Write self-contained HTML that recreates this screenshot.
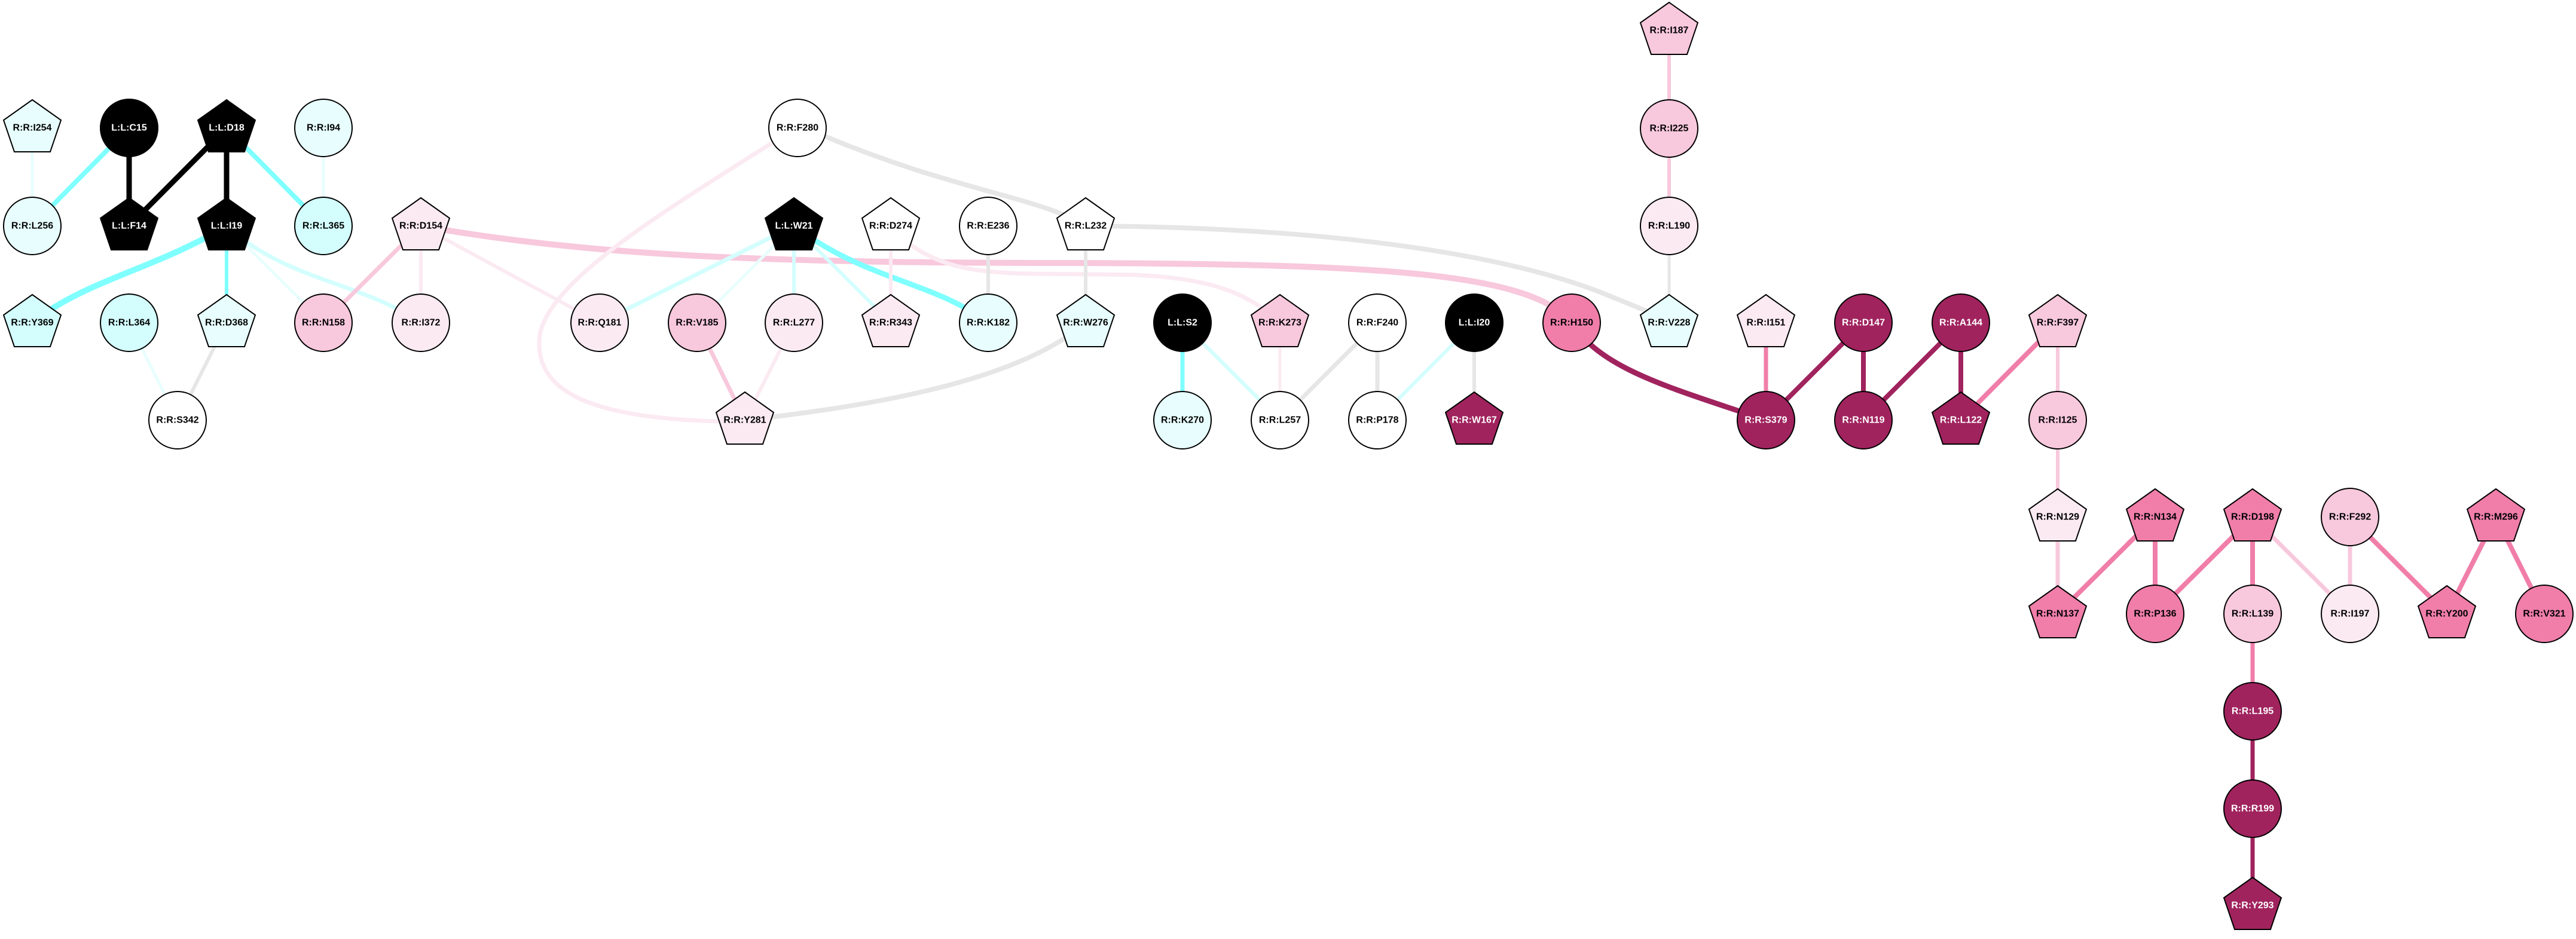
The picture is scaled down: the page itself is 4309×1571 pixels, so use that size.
<!DOCTYPE html>
<html><head><meta charset="utf-8"><style>
html,body{margin:0;padding:0;background:#fff;}
svg{display:block;}
text{font-family:"Liberation Sans",Arial,sans-serif;font-weight:bold;font-size:16px;text-anchor:middle;dominant-baseline:central;}
.w{fill:#fff;}
</style></head><body>
<svg width="4309" height="1571" viewBox="0 0 4309 1571" xmlns="http://www.w3.org/2000/svg">
<defs>
<polygon id="pg" points="0,-47 48,-13 30,40 -30,40 -48,-13" stroke="#000" stroke-width="2"/>
</defs>
<g fill="none" stroke-linecap="butt">
<line x1="54" y1="214" x2="54" y2="378" stroke="#e8fefe" stroke-width="5"/>
<line x1="216" y1="214" x2="54" y2="378" stroke="#80ffff" stroke-width="8"/>
<line x1="216" y1="214" x2="216" y2="378" stroke="#000" stroke-width="9"/>
<line x1="379" y1="214" x2="216" y2="378" stroke="#000" stroke-width="9"/>
<line x1="379" y1="214" x2="379" y2="378" stroke="#000" stroke-width="9"/>
<line x1="379" y1="214" x2="541" y2="378" stroke="#80ffff" stroke-width="8"/>
<line x1="541" y1="214" x2="541" y2="378" stroke="#e8fefe" stroke-width="5"/>
<path d="M379,378 C260,450 140,470 54,540" stroke="#80ffff" stroke-width="10"/>
<line x1="379" y1="378" x2="379" y2="540" stroke="#80ffff" stroke-width="6"/>
<line x1="379" y1="378" x2="541" y2="540" stroke="#e8fefe" stroke-width="5"/>
<path d="M379,378 C480,470 600,470 704,540" stroke="#d4fefe" stroke-width="7"/>
<line x1="216" y1="540" x2="297" y2="703" stroke="#e8fefe" stroke-width="5"/>
<line x1="379" y1="540" x2="297" y2="703" stroke="#e6e6e6" stroke-width="6"/>
<line x1="704" y1="378" x2="541" y2="540" stroke="#f8c8dc" stroke-width="7"/>
<line x1="704" y1="378" x2="704" y2="540" stroke="#fbeaf2" stroke-width="6"/>
<line x1="704" y1="378" x2="1003" y2="540" stroke="#fbeaf2" stroke-width="6"/>
<path d="M704,378 C1000,430 1300,440 1800,440 C2300,442 2560,455 2629,540" stroke="#f8c8dc" stroke-width="10"/>
<path d="M1290,240 C1100,360 920,470 903,560 C890,660 1000,700 1205,705" stroke="#fbeaf2" stroke-width="7"/>
<path d="M1380,228 C1600,320 1740,330 1816,378" stroke="#e6e6e6" stroke-width="8"/>
<line x1="1328" y1="378" x2="1003" y2="540" stroke="#d4fefe" stroke-width="7"/>
<line x1="1328" y1="378" x2="1166" y2="540" stroke="#e8fefe" stroke-width="5"/>
<line x1="1328" y1="378" x2="1328" y2="540" stroke="#d4fefe" stroke-width="6"/>
<line x1="1328" y1="378" x2="1490" y2="540" stroke="#d4fefe" stroke-width="6"/>
<path d="M1328,378 C1450,470 1560,470 1653,540" stroke="#80ffff" stroke-width="9"/>
<line x1="1490" y1="378" x2="1490" y2="540" stroke="#fbeaf2" stroke-width="6"/>
<path d="M1510,400 C1600,470 1680,455 1900,460 C2000,465 2080,480 2141,540" stroke="#fbeaf2" stroke-width="7"/>
<line x1="1653" y1="378" x2="1653" y2="540" stroke="#e6e6e6" stroke-width="6"/>
<line x1="1816" y1="378" x2="1816" y2="540" stroke="#e6e6e6" stroke-width="6"/>
<path d="M1816,378 C2200,380 2500,420 2680,490 C2740,515 2770,525 2792,540" stroke="#e6e6e6" stroke-width="8"/>
<path d="M1816,540 C1700,640 1450,680 1246,703" stroke="#e6e6e6" stroke-width="8"/>
<line x1="1166" y1="540" x2="1246" y2="703" stroke="#f8c8dc" stroke-width="7"/>
<line x1="1328" y1="540" x2="1246" y2="703" stroke="#fbeaf2" stroke-width="6"/>
<line x1="1978" y1="540" x2="1978" y2="703" stroke="#80ffff" stroke-width="7"/>
<line x1="1978" y1="540" x2="2141" y2="703" stroke="#d4fefe" stroke-width="6"/>
<line x1="2141" y1="540" x2="2141" y2="703" stroke="#fbeaf2" stroke-width="5"/>
<line x1="2304" y1="540" x2="2141" y2="703" stroke="#e6e6e6" stroke-width="7"/>
<line x1="2304" y1="540" x2="2304" y2="703" stroke="#e6e6e6" stroke-width="7"/>
<line x1="2466" y1="540" x2="2304" y2="703" stroke="#d4fefe" stroke-width="6"/>
<line x1="2466" y1="540" x2="2466" y2="703" stroke="#e6e6e6" stroke-width="6"/>
<line x1="2792" y1="51" x2="2792" y2="215" stroke="#f8c8dc" stroke-width="6"/>
<line x1="2792" y1="215" x2="2792" y2="378" stroke="#f8c8dc" stroke-width="6"/>
<line x1="2792" y1="378" x2="2792" y2="540" stroke="#e6e6e6" stroke-width="5"/>
<path d="M2629,540 C2680,620 2800,650 2954,703" stroke="#a0235e" stroke-width="9"/>
<line x1="2954" y1="540" x2="2954" y2="703" stroke="#f07ea9" stroke-width="7"/>
<line x1="3117" y1="540" x2="2954" y2="703" stroke="#a0235e" stroke-width="8"/>
<line x1="3117" y1="540" x2="3117" y2="703" stroke="#a0235e" stroke-width="8"/>
<line x1="3280" y1="540" x2="3117" y2="703" stroke="#a0235e" stroke-width="8"/>
<line x1="3280" y1="540" x2="3280" y2="703" stroke="#a0235e" stroke-width="8"/>
<line x1="3442" y1="540" x2="3280" y2="703" stroke="#f07ea9" stroke-width="8"/>
<line x1="3442" y1="540" x2="3442" y2="703" stroke="#f8c8dc" stroke-width="6"/>
<line x1="3442" y1="703" x2="3442" y2="865" stroke="#f8c8dc" stroke-width="6"/>
<line x1="3442" y1="865" x2="3442" y2="1027" stroke="#f8c8dc" stroke-width="7"/>
<line x1="3605" y1="865" x2="3442" y2="1027" stroke="#f07ea9" stroke-width="8"/>
<line x1="3605" y1="865" x2="3605" y2="1027" stroke="#f07ea9" stroke-width="8"/>
<line x1="3768" y1="865" x2="3605" y2="1027" stroke="#f07ea9" stroke-width="8"/>
<line x1="3768" y1="865" x2="3768" y2="1027" stroke="#f07ea9" stroke-width="8"/>
<line x1="3768" y1="865" x2="3931" y2="1027" stroke="#f8c8dc" stroke-width="7"/>
<line x1="3931" y1="865" x2="3931" y2="1027" stroke="#f8c8dc" stroke-width="7"/>
<line x1="3931" y1="865" x2="4093" y2="1027" stroke="#f07ea9" stroke-width="8"/>
<line x1="4175" y1="865" x2="4093" y2="1027" stroke="#f07ea9" stroke-width="8"/>
<line x1="4175" y1="865" x2="4256" y2="1027" stroke="#f07ea9" stroke-width="8"/>
<line x1="3768" y1="1027" x2="3768" y2="1190" stroke="#f07ea9" stroke-width="7"/>
<line x1="3768" y1="1190" x2="3768" y2="1353" stroke="#a0235e" stroke-width="7"/>
<line x1="3768" y1="1353" x2="3768" y2="1515" stroke="#a0235e" stroke-width="7"/>
</g>
<g stroke="#000" stroke-width="2">
<use href="#pg" x="54" y="214" fill="#e8fefe"/>
<circle cx="216" cy="214" r="48" fill="#000"/>
<use href="#pg" x="379" y="214" fill="#000"/>
<circle cx="541" cy="214" r="48" fill="#e8fefe"/>
<circle cx="1334" cy="214" r="48" fill="#fff"/>
<use href="#pg" x="2792" y="51" fill="#f8c8dc"/>
<circle cx="2792" cy="215" r="48" fill="#f8c8dc"/>
<circle cx="54" cy="378" r="48" fill="#e8fefe"/>
<use href="#pg" x="216" y="378" fill="#000"/>
<use href="#pg" x="379" y="378" fill="#000"/>
<circle cx="541" cy="378" r="48" fill="#d4fefe"/>
<use href="#pg" x="704" y="378" fill="#fbeaf2"/>
<use href="#pg" x="1328" y="378" fill="#000"/>
<use href="#pg" x="1490" y="378" fill="#fff"/>
<circle cx="1653" cy="378" r="48" fill="#fff"/>
<use href="#pg" x="1816" y="378" fill="#fff"/>
<circle cx="2792" cy="378" r="48" fill="#fbeaf2"/>
<use href="#pg" x="54" y="540" fill="#d4fefe"/>
<circle cx="216" cy="540" r="48" fill="#d4fefe"/>
<use href="#pg" x="379" y="540" fill="#e8fefe"/>
<circle cx="541" cy="540" r="48" fill="#f8c8dc"/>
<circle cx="704" cy="540" r="48" fill="#fbeaf2"/>
<circle cx="1003" cy="540" r="48" fill="#fbeaf2"/>
<circle cx="1166" cy="540" r="48" fill="#f8c8dc"/>
<circle cx="1328" cy="540" r="48" fill="#fbeaf2"/>
<use href="#pg" x="1490" y="540" fill="#fbeaf2"/>
<circle cx="1653" cy="540" r="48" fill="#e8fefe"/>
<use href="#pg" x="1816" y="540" fill="#e8fefe"/>
<circle cx="1978" cy="540" r="48" fill="#000"/>
<use href="#pg" x="2141" y="540" fill="#f8c8dc"/>
<circle cx="2304" cy="540" r="48" fill="#fff"/>
<circle cx="2466" cy="540" r="48" fill="#000"/>
<circle cx="2629" cy="540" r="48" fill="#f07ea9"/>
<use href="#pg" x="2792" y="540" fill="#e8fefe"/>
<use href="#pg" x="2954" y="540" fill="#fbeaf2"/>
<circle cx="3117" cy="540" r="48" fill="#a0235e"/>
<circle cx="3280" cy="540" r="48" fill="#a0235e"/>
<use href="#pg" x="3442" y="540" fill="#f8c8dc"/>
<circle cx="297" cy="703" r="48" fill="#fff"/>
<use href="#pg" x="1246" y="703" fill="#fbeaf2"/>
<circle cx="1978" cy="703" r="48" fill="#e8fefe"/>
<circle cx="2141" cy="703" r="48" fill="#fff"/>
<circle cx="2304" cy="703" r="48" fill="#fff"/>
<use href="#pg" x="2466" y="703" fill="#a0235e"/>
<circle cx="2954" cy="703" r="48" fill="#a0235e"/>
<circle cx="3117" cy="703" r="48" fill="#a0235e"/>
<use href="#pg" x="3280" y="703" fill="#a0235e"/>
<circle cx="3442" cy="703" r="48" fill="#f8c8dc"/>
<use href="#pg" x="3442" y="865" fill="#fbeaf2"/>
<use href="#pg" x="3605" y="865" fill="#f07ea9"/>
<use href="#pg" x="3768" y="865" fill="#f07ea9"/>
<circle cx="3931" cy="865" r="48" fill="#f8c8dc"/>
<use href="#pg" x="4175" y="865" fill="#f07ea9"/>
<use href="#pg" x="3442" y="1027" fill="#f07ea9"/>
<circle cx="3605" cy="1027" r="48" fill="#f07ea9"/>
<circle cx="3768" cy="1027" r="48" fill="#f8c8dc"/>
<circle cx="3931" cy="1027" r="48" fill="#fbeaf2"/>
<use href="#pg" x="4093" y="1027" fill="#f07ea9"/>
<circle cx="4256" cy="1027" r="48" fill="#f07ea9"/>
<circle cx="3768" cy="1190" r="48" fill="#a0235e"/>
<circle cx="3768" cy="1353" r="48" fill="#a0235e"/>
<use href="#pg" x="3768" y="1515" fill="#a0235e"/>
</g>
<g>
<text x="54" y="214">R:R:I254</text>
<text x="216" y="214" class="w">L:L:C15</text>
<text x="379" y="214" class="w">L:L:D18</text>
<text x="541" y="214">R:R:I94</text>
<text x="1334" y="214">R:R:F280</text>
<text x="2792" y="51">R:R:I187</text>
<text x="2792" y="215">R:R:I225</text>
<text x="54" y="378">R:R:L256</text>
<text x="216" y="378" class="w">L:L:F14</text>
<text x="379" y="378" class="w">L:L:I19</text>
<text x="541" y="378">R:R:L365</text>
<text x="704" y="378">R:R:D154</text>
<text x="1328" y="378" class="w">L:L:W21</text>
<text x="1490" y="378">R:R:D274</text>
<text x="1653" y="378">R:R:E236</text>
<text x="1816" y="378">R:R:L232</text>
<text x="2792" y="378">R:R:L190</text>
<text x="54" y="540">R:R:Y369</text>
<text x="216" y="540">R:R:L364</text>
<text x="379" y="540">R:R:D368</text>
<text x="541" y="540">R:R:N158</text>
<text x="704" y="540">R:R:I372</text>
<text x="1003" y="540">R:R:Q181</text>
<text x="1166" y="540">R:R:V185</text>
<text x="1328" y="540">R:R:L277</text>
<text x="1490" y="540">R:R:R343</text>
<text x="1653" y="540">R:R:K182</text>
<text x="1816" y="540">R:R:W276</text>
<text x="1978" y="540" class="w">L:L:S2</text>
<text x="2141" y="540">R:R:K273</text>
<text x="2304" y="540">R:R:F240</text>
<text x="2466" y="540" class="w">L:L:I20</text>
<text x="2629" y="540">R:R:H150</text>
<text x="2792" y="540">R:R:V228</text>
<text x="2954" y="540">R:R:I151</text>
<text x="3117" y="540" class="w">R:R:D147</text>
<text x="3280" y="540" class="w">R:R:A144</text>
<text x="3442" y="540">R:R:F397</text>
<text x="297" y="703">R:R:S342</text>
<text x="1246" y="703">R:R:Y281</text>
<text x="1978" y="703">R:R:K270</text>
<text x="2141" y="703">R:R:L257</text>
<text x="2304" y="703">R:R:P178</text>
<text x="2466" y="703" class="w">R:R:W167</text>
<text x="2954" y="703" class="w">R:R:S379</text>
<text x="3117" y="703" class="w">R:R:N119</text>
<text x="3280" y="703" class="w">R:R:L122</text>
<text x="3442" y="703">R:R:I125</text>
<text x="3442" y="865">R:R:N129</text>
<text x="3605" y="865">R:R:N134</text>
<text x="3768" y="865">R:R:D198</text>
<text x="3931" y="865">R:R:F292</text>
<text x="4175" y="865">R:R:M296</text>
<text x="3442" y="1027">R:R:N137</text>
<text x="3605" y="1027">R:R:P136</text>
<text x="3768" y="1027">R:R:L139</text>
<text x="3931" y="1027">R:R:I197</text>
<text x="4093" y="1027">R:R:Y200</text>
<text x="4256" y="1027">R:R:V321</text>
<text x="3768" y="1190" class="w">R:R:L195</text>
<text x="3768" y="1353" class="w">R:R:R199</text>
<text x="3768" y="1515" class="w">R:R:Y293</text>
</g>
</svg>
</body></html>
